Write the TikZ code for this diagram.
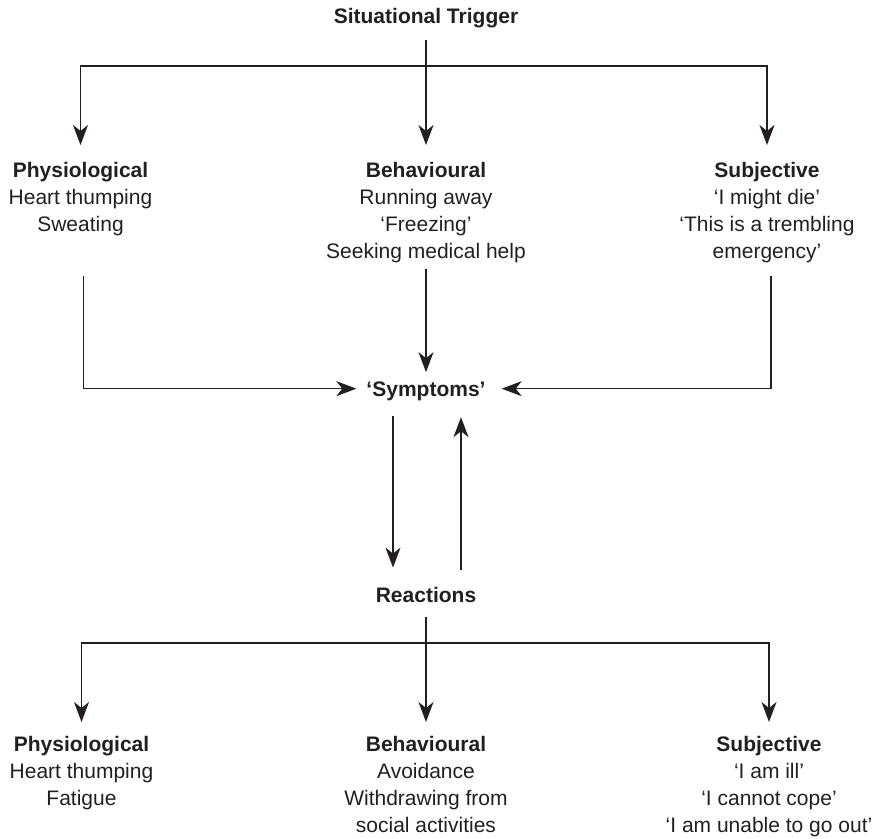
\documentclass[tikz,border=0pt]{standalone}
\usepackage{fontspec}
\setmainfont{Liberation Sans}
\usetikzlibrary{arrows.meta}
\definecolor{ink}{RGB}{35,31,32}
\newcommand{\fsz}{\fontsize{21}{27}\selectfont}
\begin{document}
\begin{tikzpicture}[x=1pt,y=-1pt,
  lbl/.style={inner sep=0pt, font=\fsz, text=ink},
  single/.style={lbl, anchor=base, text depth=0pt, font=\fsz\bfseries},
  block/.style={lbl, anchor=north, align=center},
  ln/.style={draw=ink, line width=1.3pt},
  arr/.style={ln, -{Stealth[length=20pt,width=15pt,inset=6pt]}}]
\useasboundingbox (0,0) rectangle (875,838);
% text
\node[single] (trig) at (426,23) {Situational Trigger};
\node[block] (p1) at (80.5,162) {\textbf{Physiological}\\Heart thumping\\Sweating};
\node[block] (b1) at (426,162) {\textbf{Behavioural}\\Running away\\‘Freezing’\\Seeking medical help};
\node[block] (s1) at (767,162) {\textbf{Subjective}\\‘I might die’\\‘This is a trembling\\emergency’};
\node[single] (sym) at (426,396) {‘Symptoms’};
\node[single] (rea) at (426,602) {Reactions};
\node[block] (p2) at (81.5,736) {\textbf{Physiological}\\Heart thumping\\Fatigue};
\node[block] (b2) at (426,736) {\textbf{Behavioural}\\Avoidance\\Withdrawing from\\social activities};
\node[block] (s2) at (769,736) {\textbf{Subjective}\\‘I am ill’\\‘I cannot cope’\\‘I am unable to go out’};
% coordinates
\coordinate (bar1) at (426,66);
\coordinate (bar2) at (426,643);
\coordinate (p1o) at (83.7,276);
\coordinate (s1o) at (771,276);
% top fan-out
\draw[ln, shorten <=17pt] (trig.south) -- (bar1);
\draw[arr, shorten >=17pt] (bar1) -- (b1.north);
\draw[arr, shorten >=17pt] (bar1) -| (p1.north);
\draw[arr, shorten >=17pt] (bar1) -| (s1.north);
% into symptoms
\draw[arr, shorten <=6pt, shorten >=9pt] (b1.south) -- (sym.north);
\draw[arr, shorten >=10pt] (p1o) |- (sym.west);
\draw[arr, shorten >=16pt] (s1o) |- (sym.east);
% symptoms <-> reactions
\draw[arr, shorten <=20pt, shorten >=19pt] ([xshift=-33pt]sym.south) -- ([xshift=-33pt]rea.north);
\draw[arr, shorten <=17pt, shorten >=21pt] ([xshift=35pt]rea.north) -- ([xshift=35pt]sym.south);
% bottom fan-out
\draw[ln, shorten <=15pt] (rea.south) -- (bar2);
\draw[arr, shorten >=14pt] (bar2) -- (b2.north);
\draw[arr, shorten >=14pt] (bar2) -| (p2.north);
\draw[arr, shorten >=14pt] (bar2) -| (s2.north);
\end{tikzpicture}
\end{document}
